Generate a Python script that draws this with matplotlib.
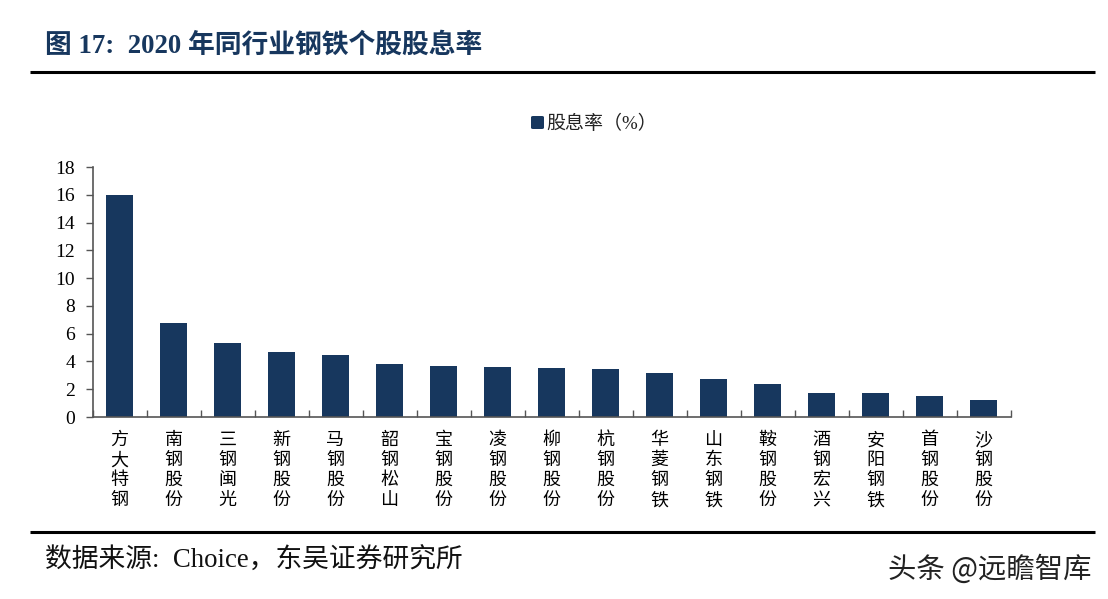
import matplotlib
matplotlib.use("Agg")
import matplotlib.pyplot as plt
from matplotlib.patches import FancyBboxPatch

plt.rcParams['font.family'] = ['Liberation Serif', 'Noto Sans CJK SC', 'DejaVu Sans']

names = ["方大特钢", "南钢股份", "三钢闽光", "新钢股份", "马钢股份", "韶钢松山", "宝钢股份", "凌钢股份", "柳钢股份",
         "杭钢股份", "华菱钢铁", "山东钢铁", "鞍钢股份", "酒钢宏兴", "安阳钢铁", "首钢股份", "沙钢股份"]
dividend_yield = [16.0, 6.8, 5.3, 4.7, 4.45, 3.8, 3.65, 3.6, 3.55, 3.45, 3.15, 2.75, 2.4, 1.75, 1.72, 1.5, 1.2]
y_ticks = [0, 2, 4, 6, 8, 10, 12, 14, 16, 18]
title = "图 17:  2020 年同行业钢铁个股股息率"
legend_label = "股息率（%）"
source = "数据来源:  Choice，东吴证券研究所"
watermark = "头条 @远瞻智库"

W, H = 1108, 599
navy = "#17375e"
fig = plt.figure(figsize=(W / 100, H / 100), dpi=100)

# axes placed in pixel terms
ax = fig.add_axes([93 / W, 1 - 417 / H, (1011 - 93) / W, (417 - 167) / H])
x = list(range(len(names)))
ax.bar(x, dividend_yield, width=0.5, color=navy)
ax.set_xlim(-0.49, len(names) - 0.49)
ax.set_ylim(0, 18)
ax.set_yticks(y_ticks)
ax.tick_params(axis='y', labelsize=14, length=5, width=1, color="#555555", pad=8)
ax.set_xticks(x)
ax.set_xticklabels(["\n".join(n) for n in names], fontsize=13, linespacing=1.23)
ax.tick_params(axis='x', length=0, pad=11)
# category separators, ticks pointing up from the axis
ax.set_xticks([i - 0.49 for i in range(len(names) + 1)], minor=True)
ax.tick_params(axis='x', which='minor', direction='in', length=5, width=1, color="#555555")
for s in ['top', 'right']:
    ax.spines[s].set_visible(False)
for s in ['left', 'bottom']:
    ax.spines[s].set_color("#555555")
    ax.spines[s].set_linewidth(1.2)

fig.text(45 / W, 1 - 46 / H, title, fontsize=19.3, fontweight='bold', color=navy, va='center')
fig.add_artist(plt.Line2D([30 / W, 1095 / W], [1 - 71.5 / H] * 2, color='black', lw=2.2, solid_capstyle='butt'))
fig.add_artist(plt.Line2D([30 / W, 1095 / W], [1 - 531.5 / H] * 2, color='black', lw=2.2, solid_capstyle='butt'))

# legend
fig.add_artist(FancyBboxPatch((531 / W, 1 - 129 / H), 13 / W, 13 / H, boxstyle="round,pad=0,rounding_size=0.002",
                              transform=fig.transFigure, fc=navy, ec=navy, lw=0))
fig.text(546 / W, 1 - 124 / H, legend_label, fontsize=13.7, color="#222222", va='center')

fig.text(45 / W, 1 - 561 / H, source, fontsize=19.3, color="#111111", va='center')
fig.text(888 / W, 1 - 570 / H, watermark, fontsize=20.4, color="#222222", va='center',
         family=['Noto Sans CJK SC', 'DejaVu Sans'])

fig.savefig("out.png", dpi=100)
